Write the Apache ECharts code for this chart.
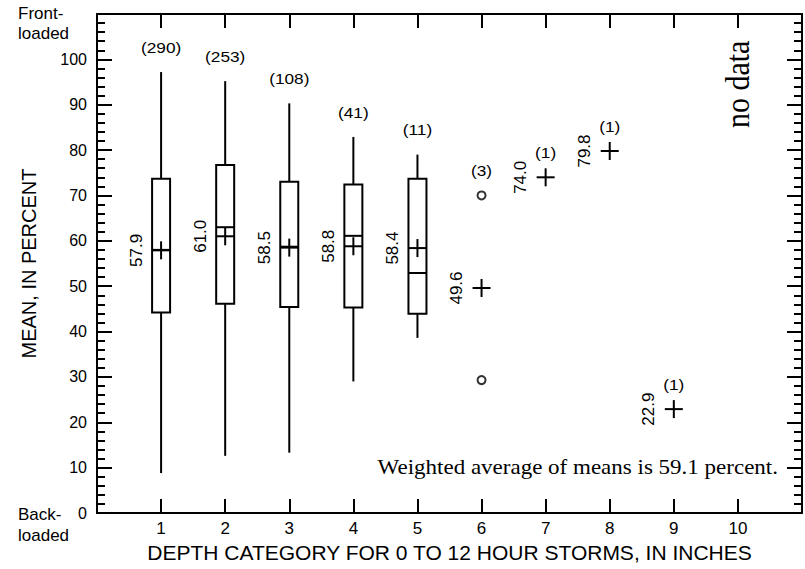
<!DOCTYPE html>
<html><head><meta charset="utf-8">
<script src="https://cdn.jsdelivr.net/npm/echarts@6/dist/echarts.min.js"></script>
<style>html,body{margin:0;padding:0;background:#fff}#c{width:805px;height:569px}</style>
</head><body><div id="c"></div>
<script>
// ---- data ----
const categories = [1, 2, 3, 4, 5, 6, 7, 8, 9];
const counts = [290, 253, 108, 41, 11, 3, 1, 1, 1];
const means = [57.9, 61.0, 58.5, 58.8, 58.4, 49.6, 74.0, 79.8, 22.9];
const meanLabels = ['57.9', '61.0', '58.5', '58.8', '58.4', '49.6', '74.0', '79.8', '22.9'];
const boxCategories = [1, 2, 3, 4, 5];
const whiskerLow = [8.8, 12.6, 13.3, 29.0, 38.6];
const quartile1 = [44.2, 46.1, 45.4, 45.3, 43.9];
const medians = [58.0, 63.0, 58.7, 61.1, 52.9];
const quartile3 = [73.7, 76.7, 73.0, 72.4, 73.7];
const whiskerHigh = [97.2, 95.2, 90.3, 82.9, 79.0];
const outlierCategories = [6, 6];
const outlierValues = [70.0, 29.3];
const noDataPoint = [10, 94.5];
const xTickLabels = ['1', '2', '3', '4', '5', '6', '7', '8', '9', '10'];
const yTickLabels = ['0', '10', '20', '30', '40', '50', '60', '70', '80', '90', '100'];
const weightedNote = 'Weighted average of means is 59.1 percent.';

// ---- derived ----
const topValues = categories.map((c, i) => {
  let v = means[i];
  const bi = boxCategories.indexOf(c);
  if (bi >= 0) v = Math.max(v, whiskerHigh[bi]);
  outlierCategories.forEach((oc, j) => { if (oc === c) v = Math.max(v, outlierValues[j]); });
  return v;
});

const SANS = '"Liberation Sans", Arial, Helvetica, sans-serif';
const SERIF = '"Liberation Serif", "Times New Roman", serif';
const BLACK = '#000';
const LW = 2;
const HALF = 9;
const lineStyle = { stroke: BLACK, lineWidth: LW };

const chart = echarts.init(document.getElementById('c'), null, { renderer: 'svg' });

const xBase = {
  type: 'value', min: 0, max: 11, interval: 1,
  axisLine: { show: true, onZero: false, lineStyle: { color: BLACK, width: LW } },
  axisTick: { show: true, inside: true, length: 14, lineStyle: { color: BLACK, width: LW } },
  splitLine: { show: false }
};
const yBase = {
  type: 'value', min: 0, max: 110, interval: 10,
  axisLine: { show: true, onZero: false, lineStyle: { color: BLACK, width: LW } },
  axisTick: { show: true, inside: true, length: 15, lineStyle: { color: BLACK, width: LW } },
  minorTick: { show: true, splitNumber: 5, length: 8, lineStyle: { color: BLACK, width: LW } },
  splitLine: { show: false }
};

const option = {
  backgroundColor: '#fff',
  animation: false,
  grid: { left: 97, right: 2, top: 14, bottom: 56 },
  xAxis: [
    Object.assign({}, xBase, {
      position: 'bottom',
      name: 'DEPTH CATEGORY FOR 0 TO 12 HOUR STORMS, IN INCHES',
      nameLocation: 'middle', nameGap: 23,
      nameTextStyle: { color: BLACK, fontSize: 21, fontFamily: SANS },
      axisLabel: {
        color: BLACK, fontSize: 17, fontFamily: SANS, margin: 7,
        formatter: v => { const s = String(v); return xTickLabels.indexOf(s) >= 0 ? s : ''; }
      }
    }),
    Object.assign({}, xBase, { position: 'top', axisLabel: { show: false } })
  ],
  yAxis: [
    Object.assign({}, yBase, {
      position: 'left',
      name: 'MEAN, IN PERCENT',
      nameLocation: 'middle', nameGap: 58,
      nameTextStyle: { color: BLACK, fontSize: 20, fontFamily: SANS },
      axisLabel: {
        color: BLACK, fontSize: 16, fontFamily: SANS, margin: 10,
        formatter: v => { const s = String(v); return yTickLabels.indexOf(s) >= 0 ? s : ''; }
      }
    }),
    Object.assign({}, yBase, { position: 'right', axisLabel: { show: false } })
  ],
  graphic: [
    { type: 'text', left: 18, top: 3, style: { text: 'Front-\nloaded', fill: BLACK, fontSize: 17, fontFamily: SANS, lineHeight: 20 } },
    { type: 'text', left: 18, top: 504, style: { text: 'Back-\nloaded', fill: BLACK, fontSize: 17, fontFamily: SANS, lineHeight: 21 } },
    { type: 'text', x: 778, y: 468, scaleX: 1.15, style: { text: weightedNote, fill: BLACK, fontSize: 20, fontFamily: SERIF, align: 'right', verticalAlign: 'middle' } }
  ],
  series: [
    {
      name: 'boxes', type: 'custom', clip: false,
      data: boxCategories.map((c, i) => [c, whiskerLow[i], quartile1[i], medians[i], quartile3[i], whiskerHigh[i]]),
      encode: { x: 0, y: [1, 2, 3, 4, 5] },
      renderItem: function (params, api) {
        const c = api.value(0);
        const pLow = api.coord([c, api.value(1)]);
        const pQ1 = api.coord([c, api.value(2)]);
        const pMed = api.coord([c, api.value(3)]);
        const pQ3 = api.coord([c, api.value(4)]);
        const pHigh = api.coord([c, api.value(5)]);
        const x = pQ1[0];
        return {
          type: 'group', children: [
            { type: 'line', shape: { x1: x, y1: pLow[1], x2: x, y2: pQ1[1] }, style: lineStyle },
            { type: 'line', shape: { x1: x, y1: pQ3[1], x2: x, y2: pHigh[1] }, style: lineStyle },
            { type: 'rect', shape: { x: x - HALF, y: pQ3[1], width: 2 * HALF, height: pQ1[1] - pQ3[1] }, style: { fill: '#fff', stroke: BLACK, lineWidth: LW } },
            { type: 'line', shape: { x1: x - HALF, y1: pMed[1], x2: x + HALF, y2: pMed[1] }, style: lineStyle }
          ]
        };
      }
    },
    {
      name: 'outliers', type: 'scatter',
      data: outlierCategories.map((c, i) => [c, outlierValues[i]]),
      symbol: 'emptyCircle', symbolSize: 8,
      itemStyle: { color: BLACK, borderColor: BLACK, borderWidth: 1 }
    },
    {
      name: 'means', type: 'custom', clip: false,
      data: categories.map((c, i) => [c, means[i], meanLabels[i]]),
      encode: { x: 0, y: 1 },
      renderItem: function (params, api) {
        const p = api.coord([api.value(0), api.value(1)]);
        const label = meanLabels[params.dataIndex];
        return {
          type: 'group', children: [
            { type: 'line', shape: { x1: p[0] - HALF, y1: p[1], x2: p[0] + HALF, y2: p[1] }, style: lineStyle },
            { type: 'line', shape: { x1: p[0], y1: p[1] - HALF, x2: p[0], y2: p[1] + HALF }, style: lineStyle },
            { type: 'text', x: p[0] - 25, y: p[1], rotation: Math.PI / 2,
              style: { text: label, fill: BLACK, fontSize: 17, fontFamily: SANS, align: 'center', verticalAlign: 'middle' } }
          ]
        };
      }
    },
    {
      name: 'counts', type: 'custom', clip: false,
      data: categories.map((c, i) => [c, topValues[i], counts[i]]),
      encode: { x: 0, y: 1 },
      renderItem: function (params, api) {
        const p = api.coord([api.value(0), api.value(1)]);
        return {
          type: 'text', x: p[0], y: p[1] - 25, scaleX: 1.15,
          style: { text: '(' + counts[params.dataIndex] + ')', fill: BLACK, fontSize: 15, fontFamily: SANS, align: 'center', verticalAlign: 'middle' }
        };
      }
    },
    {
      name: 'nodata', type: 'custom', clip: false,
      data: [noDataPoint],
      encode: { x: 0, y: 1 },
      renderItem: function (params, api) {
        const p = api.coord([api.value(0), api.value(1)]);
        return {
          type: 'text', x: p[0], y: p[1], rotation: Math.PI / 2, scaleY: 1.1,
          style: { text: 'no data', fill: BLACK, fontSize: 30, fontFamily: SERIF, align: 'center', verticalAlign: 'middle' }
        };
      }
    }
  ]
};
chart.setOption(option);
</script>
</body></html>
